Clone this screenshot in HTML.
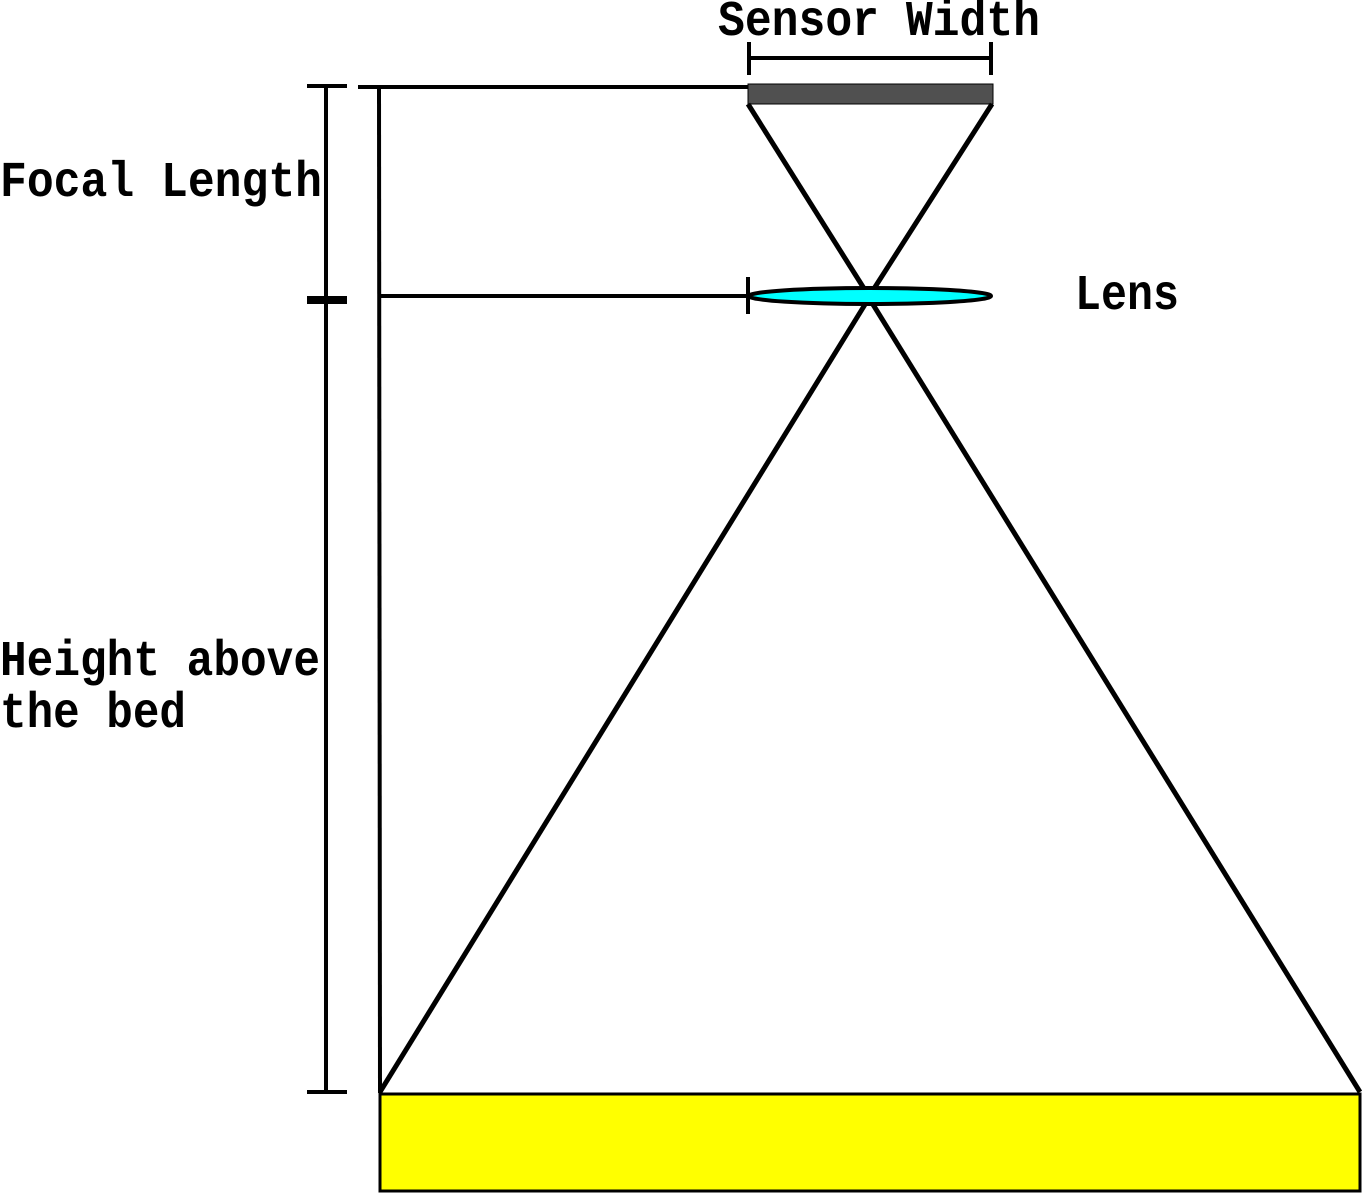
<!DOCTYPE html>
<html><head><meta charset="utf-8"><style>
html,body{margin:0;padding:0;background:#fff;}
svg{display:block;}
text{font-family:"Liberation Mono",monospace;font-weight:bold;fill:#000;}
</style></head><body>
<svg width="1362" height="1193" viewBox="0 0 1362 1193">
  <text x="718" y="35" font-size="50" textLength="322" lengthAdjust="spacingAndGlyphs">Sensor Width</text>
  <g stroke="#000" stroke-width="4" fill="none">
    <line x1="749" y1="58" x2="991" y2="58"/>
    <line x1="749" y1="42" x2="749" y2="75"/>
    <line x1="991" y1="42" x2="991" y2="75"/>
  </g>
  <rect x="748" y="84" width="245" height="20" fill="#505050" stroke="#000" stroke-width="1"/>
  <line x1="358" y1="87" x2="748" y2="87" stroke="#000" stroke-width="4"/>
  <line x1="379" y1="87" x2="380" y2="1093" stroke="#000" stroke-width="4"/>
  <g stroke="#000">
    <line x1="326" y1="86" x2="326" y2="1092" stroke-width="4"/>
    <line x1="307" y1="86" x2="347" y2="86" stroke-width="4"/>
    <line x1="307" y1="300" x2="347" y2="300" stroke-width="8"/>
    <line x1="307" y1="1092" x2="347" y2="1092" stroke-width="4"/>
  </g>
  <line x1="379" y1="296" x2="748" y2="296" stroke="#000" stroke-width="4"/>
  <line x1="748" y1="277" x2="748" y2="314" stroke="#000" stroke-width="4"/>
  <g stroke="#000" stroke-width="5" fill="none">
    <line x1="748" y1="104" x2="870" y2="298"/>
    <line x1="992" y1="104" x2="868" y2="298"/>
    <line x1="869" y1="298" x2="1360" y2="1092"/>
    <line x1="869" y1="298" x2="380" y2="1092"/>
  </g>
  <ellipse cx="870" cy="296" rx="121" ry="8" fill="#00ffff" stroke="#000" stroke-width="4"/>
  <text x="1075" y="309" font-size="50" textLength="104" lengthAdjust="spacingAndGlyphs">Lens</text>
  <text x="0" y="196" font-size="50" textLength="322" lengthAdjust="spacingAndGlyphs">Focal Length</text>
  <text x="0" y="675" font-size="50" textLength="320" lengthAdjust="spacingAndGlyphs">Height above</text>
  <text x="0" y="727" font-size="50" textLength="186" lengthAdjust="spacingAndGlyphs">the bed</text>
  <rect x="380" y="1094" width="980" height="97" fill="#ffff00" stroke="#000" stroke-width="3"/>
</svg>
</body></html>
